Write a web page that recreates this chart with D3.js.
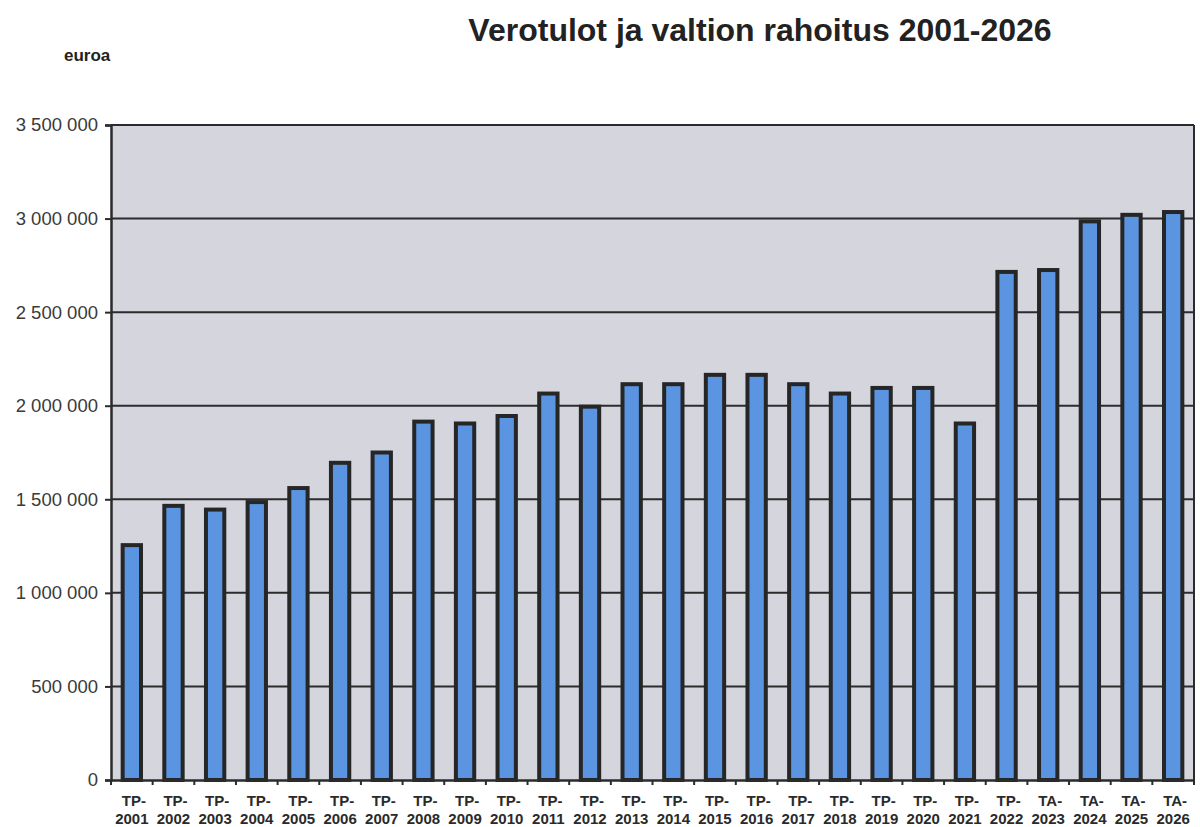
<!DOCTYPE html>
<html>
<head>
<meta charset="utf-8">
<script src="https://cdn.jsdelivr.net/npm/d3@7/dist/d3.min.js"></script>
<style>
  html, body { margin: 0; padding: 0; background: #fff; }
  svg { display: block; }
</style>
</head>
<body>
<svg id="chart" width="1200" height="827"></svg>
<script>
const prefixes = ["TP-","TP-","TP-","TP-","TP-","TP-","TP-","TP-","TP-","TP-","TP-","TP-","TP-","TP-","TP-","TP-","TP-","TP-","TP-","TP-","TP-","TP-","TA-","TA-","TA-","TA-"];
const years = ["2001","2002","2003","2004","2005","2006","2007","2008","2009","2010","2011","2012","2013","2014","2015","2016","2017","2018","2019","2020","2021","2022","2023","2024","2025","2026"];
const values = [1255000,1465000,1445000,1485000,1560000,1695000,1750000,1915000,1905000,1945000,2065000,1995000,2115000,2115000,2165000,2165000,2115000,2065000,2095000,2095000,1905000,2715000,2725000,2985000,3020000,3035000];
const yTicks = [0,500000,1000000,1500000,2000000,2500000,3000000,3500000];
const titleText = "Verotulot ja valtion rahoitus 2001-2026";
const unitText = "euroa";

const categories = years.map((y,i) => prefixes[i] + y);

const svg = d3.select("#chart");
const pLeft = 111, pRight = 1194, pTop = 125, pBottom = 780;

const x = d3.scaleBand().domain(categories).range([pLeft, pRight]).paddingInner(0.56).paddingOuter(0.28);
const y = d3.scaleLinear().domain([0, 3500000]).range([pBottom, pTop]);

const fmt = v => d3.format(",")(v).replace(/,/g, " ");

// plot background
svg.append("rect").attr("x", pLeft).attr("y", pTop).attr("width", pRight-pLeft).attr("height", pBottom-pTop)
  .attr("fill", "#d5d5de");

// gridlines
svg.append("g").selectAll("line").data(yTicks.filter(d => d > 0)).join("line")
  .attr("x1", pLeft).attr("x2", pRight)
  .attr("y1", d => y(d)).attr("y2", d => y(d))
  .attr("stroke", "#2b2b2b").attr("stroke-width", 2);

// right border
svg.append("line").attr("x1", pRight).attr("x2", pRight).attr("y1", pTop).attr("y2", pBottom)
  .attr("stroke", "#2b2b2b").attr("stroke-width", 2);

// bars
svg.append("g").selectAll("rect").data(values).join("rect")
  .attr("x", (d,i) => x(categories[i]))
  .attr("width", x.bandwidth())
  .attr("y", d => y(d))
  .attr("height", d => pBottom - y(d))
  .attr("fill", "#5b95e2")
  .attr("stroke", "#262626")
  .attr("stroke-width", 4);

// y axis
const yAxis = d3.axisLeft(y).tickValues(yTicks).tickFormat(fmt).tickSize(6).tickPadding(7);
const gy = svg.append("g").attr("transform", `translate(${pLeft},0)`).call(yAxis);
gy.select(".domain").attr("stroke", "#2b2b2b").attr("stroke-width", 2.5);
gy.selectAll(".tick line").attr("stroke", "#2b2b2b").attr("stroke-width", 2);
gy.selectAll(".tick text").attr("font-family", "Liberation Sans, Arial, sans-serif")
  .attr("font-size", 18.5).attr("fill", "#3a3a3a");

// x axis
const xAxis = d3.axisBottom(x).tickSize(0).tickFormat(() => "");
const gx = svg.append("g").attr("transform", `translate(0,${pBottom})`).call(xAxis);
gx.select(".domain").attr("stroke", "#2b2b2b").attr("stroke-width", 2.5);
// tick marks at band boundaries
const step = x.step();
const bounds = d3.range(categories.length + 1).map(i => pLeft + i * step);
svg.append("g").selectAll("line").data(bounds).join("line")
  .attr("x1", d => d).attr("x2", d => d)
  .attr("y1", pBottom).attr("y2", pBottom + 5)
  .attr("stroke", "#2b2b2b").attr("stroke-width", 2);

// x labels (two lines)
const lbl = svg.append("g").attr("font-family", "Liberation Sans, Arial, sans-serif")
  .attr("font-size", 15).attr("font-weight", "bold").attr("fill", "#2a2a2a").attr("text-anchor", "middle");
categories.forEach((c, i) => {
  const cx = x(c) + x.bandwidth() / 2;
  const t = lbl.append("text").attr("x", cx).attr("y", 806);
  t.append("tspan").attr("x", cx).attr("dx", 2).text(prefixes[i]);
  t.append("tspan").attr("x", cx).attr("y", 824).text(years[i]);
});

// title
svg.append("text").attr("x", 760).attr("y", 41).attr("text-anchor", "middle")
  .attr("font-family", "Liberation Sans, Arial, sans-serif").attr("font-weight", "bold")
  .attr("font-size", 32).attr("fill", "#222").text(titleText);

// unit label
svg.append("text").attr("x", 64).attr("y", 61)
  .attr("font-family", "Liberation Sans, Arial, sans-serif").attr("font-weight", "bold")
  .attr("font-size", 17).attr("fill", "#222").text(unitText);
</script>
</body>
</html>
